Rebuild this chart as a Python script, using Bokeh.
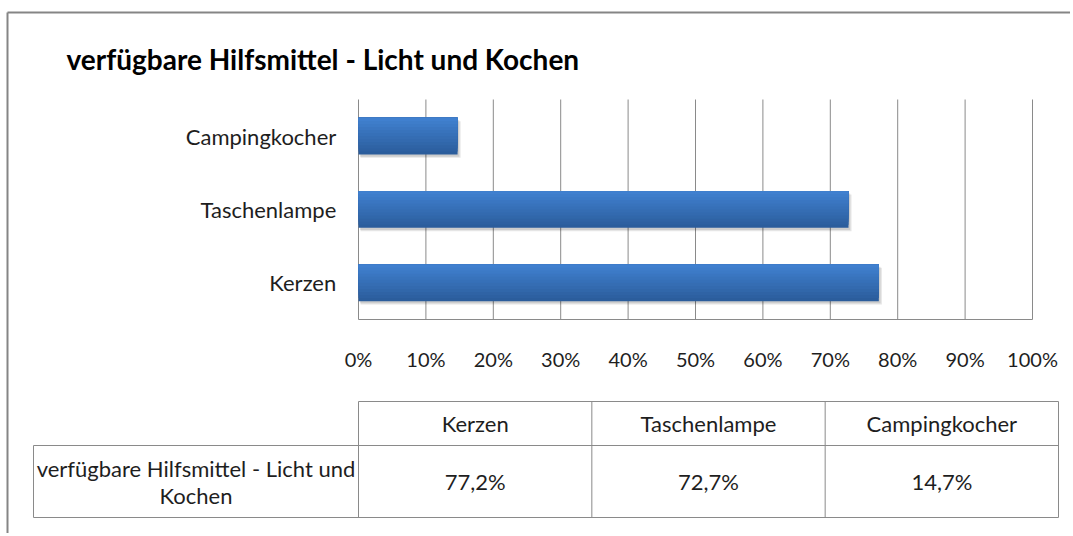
from bokeh.plotting import figure
from bokeh.models import Range1d
from bokeh.core.properties import value
from bokeh.embed import file_html
from bokeh.resources import INLINE

# ---------------- data ----------------
chart_title = "verfügbare Hilfsmittel - Licht und Kochen"
series_label = "verfügbare Hilfsmittel - Licht und\nKochen"
categories = ["Kerzen", "Taschenlampe", "Campingkocher"]   # bottom -> top
values = [77.2, 72.7, 14.7]
ticks = [0, 10, 20, 30, 40, 50, 60, 70, 80, 90, 100]
tick_labels = ["0%", "10%", "20%", "30%", "40%", "50%", "60%", "70%", "80%", "90%", "100%"]

# ---------------- layout (canvas pixels) ----------------
W, H = 1070, 533
PL, PR, PT, PB = 358, 1032, 99, 319          # plot area
TBL_L, TBL_C, TBL_R = 33, 358, 1058          # table columns
TBL_T, TBL_M, TBL_B = 401, 445, 517          # table rows
FONT = "Lato"
TXT = "#1e1e1e"
GRID = "#8a8a8a"

n = len(categories)
px_per_pct = (PR - PL) / 100.0
x_start = -PL / px_per_pct
x_end = x_start + W / px_per_pct
px_per_cat = (PB - PT) / n
y_top = (n - 0.5) + PT / px_per_cat
y_bot = -0.5 - (H - PB) / px_per_cat

p = figure(width=W, height=H, output_backend="svg", toolbar_location=None,
           x_range=Range1d(0, W), y_range=Range1d(H, 0),
           x_axis_type=None, y_axis_type=None, min_border=0)
p.outline_line_color = None
p.background_fill_color = "white"
p.border_fill_color = "white"
p.extra_x_ranges = {"pct": Range1d(x_start, x_end)}
p.extra_y_ranges = {"cat": Range1d(y_bot, y_top)}

# outer chart frame
p.segment(x0=[7, 7], y0=[12, 12], x1=[W, 7], y1=[12, H], line_color="#858585", line_width=2)

# title
p.text(x=[66], y=[58], text=[chart_title], text_font=value(FONT), text_font_style="bold",
       text_font_size="28px", text_color="black", text_baseline="middle", text_align="left")

# grid lines
p.segment(x0=ticks, x1=ticks, y0=[-0.5] * len(ticks), y1=[n - 0.5] * len(ticks),
          line_color=GRID, line_width=1, x_range_name="pct", y_range_name="cat")
p.segment(x0=[0], x1=[100], y0=[-0.5], y1=[-0.5], line_color=GRID, line_width=1,
          x_range_name="pct", y_range_name="cat")

# bars: shadow + vertical gradient built from stacked layers
idx = list(range(n))
bar_h = 0.5
p.hbar(y=[i - 0.045 for i in idx], left=0.3, right=[v + 0.45 for v in values], height=bar_h,
       fill_color="black", fill_alpha=0.10, line_color=None,
       x_range_name="pct", y_range_name="cat")
p.hbar(y=[i - 0.03 for i in idx], left=0.2, right=[v + 0.25 for v in values], height=bar_h,
       fill_color="black", fill_alpha=0.10, line_color=None,
       x_range_name="pct", y_range_name="cat")
c_bot = (0x2B, 0x5D, 0x9C)
c_top = (0x40, 0x80, 0xCF)
steps = 12
for k in range(steps):
    t = k / (steps - 1)
    col = "#%02x%02x%02x" % tuple(int(round(a + (b - a) * t)) for a, b in zip(c_bot, c_top))
    h = bar_h * (1 - k / steps)
    p.hbar(y=[i + bar_h / 2 - h / 2 for i in idx], left=0, right=values, height=h,
           fill_color=col, line_color=None, x_range_name="pct", y_range_name="cat")

# category labels
p.text(x=[-3.3] * n, y=idx, text=categories, text_font=value(FONT), text_font_size="22px",
       text_color=TXT, text_align="right", text_baseline="middle",
       x_range_name="pct", y_range_name="cat")

# tick labels
p.text(x=ticks, y=[358] * len(ticks), text=tick_labels, text_font=value(FONT),
       text_font_size="20px", text_color=TXT, text_align="center", text_baseline="middle",
       x_range_name="pct")

# ---------------- data table ----------------
col_w = (TBL_R - TBL_C) / n
col_edges = [TBL_C + j * col_w for j in range(n + 1)]
p.segment(x0=[TBL_C, TBL_L, TBL_L], x1=[TBL_R, TBL_R, TBL_R],
          y0=[TBL_T, TBL_M, TBL_B], y1=[TBL_T, TBL_M, TBL_B],
          line_color=GRID, line_width=1)
p.segment(x0=[TBL_L] + col_edges, x1=[TBL_L] + col_edges,
          y0=[TBL_M] + [TBL_T] * len(col_edges), y1=[TBL_B] * (len(col_edges) + 1),
          line_color=GRID, line_width=1)
centers = [TBL_C + (j + 0.5) * col_w for j in range(n)]
p.text(x=centers, y=[(TBL_T + TBL_M) / 2] * n, text=categories, text_font=value(FONT),
       text_font_size="22px", text_color=TXT, text_align="center", text_baseline="middle")
value_labels = [("%.1f" % v).replace(".", ",") + "%" for v in values]
p.text(x=centers, y=[(TBL_M + TBL_B) / 2] * n, text=value_labels, text_font=value(FONT),
       text_font_size="22px", text_color=TXT, text_align="center", text_baseline="middle")
p.text(x=[(TBL_L + TBL_C) / 2], y=[(TBL_M + TBL_B) / 2], text=[series_label],
       text_font=value(FONT), text_font_size="22px", text_color=TXT, text_align="center",
       text_baseline="middle", text_line_height=1.0)

open("out.html", "w").write(file_html(p, INLINE))
